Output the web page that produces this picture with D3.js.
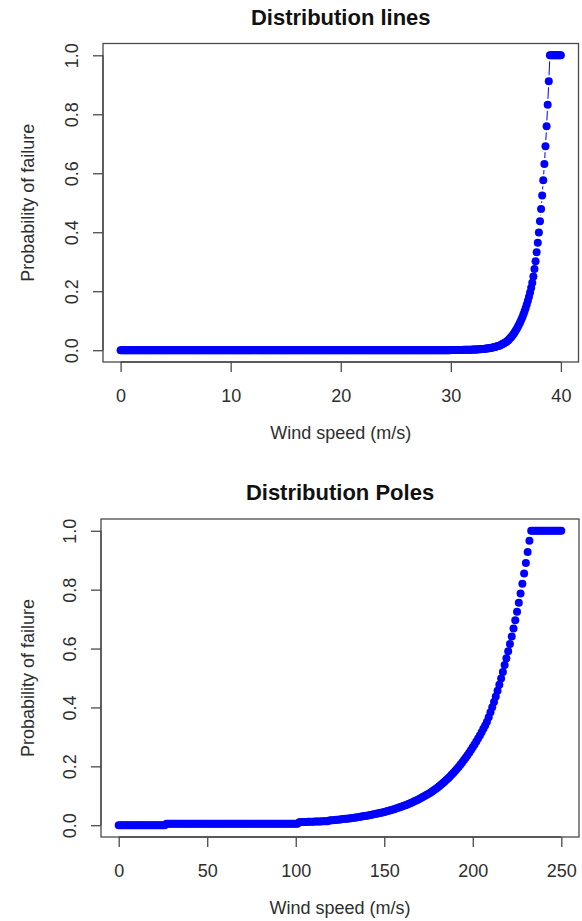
<!DOCTYPE html>
<html>
<head>
<meta charset="utf-8">
<script src="https://cdn.jsdelivr.net/npm/d3@7"></script>
<style>
  html, body { margin: 0; padding: 0; background: #fff; }
  svg { display: block; font-family: "Liberation Sans", Arial, Helvetica, sans-serif; }
</style>
</head>
<body>
<svg id="chart" width="582" height="921"></svg>
<script>
// Fragility curves: probability of failure against wind speed

// Distribution lines: wind speed (m/s), sampled every 0.1 m/s
const lineSpeeds = [
  0,0.1,0.2,0.3,0.4,0.5,0.6,0.7,0.8,0.9,
  1,1.1,1.2,1.3,1.4,1.5,1.6,1.7,1.8,1.9,
  2,2.1,2.2,2.3,2.4,2.5,2.6,2.7,2.8,2.9,
  3,3.1,3.2,3.3,3.4,3.5,3.6,3.7,3.8,3.9,
  4,4.1,4.2,4.3,4.4,4.5,4.6,4.7,4.8,4.9,
  5,5.1,5.2,5.3,5.4,5.5,5.6,5.7,5.8,5.9,
  6,6.1,6.2,6.3,6.4,6.5,6.6,6.7,6.8,6.9,
  7,7.1,7.2,7.3,7.4,7.5,7.6,7.7,7.8,7.9,
  8,8.1,8.2,8.3,8.4,8.5,8.6,8.7,8.8,8.9,
  9,9.1,9.2,9.3,9.4,9.5,9.6,9.7,9.8,9.9,
  10,10.1,10.2,10.3,10.4,10.5,10.6,10.7,10.8,10.9,
  11,11.1,11.2,11.3,11.4,11.5,11.6,11.7,11.8,11.9,
  12,12.1,12.2,12.3,12.4,12.5,12.6,12.7,12.8,12.9,
  13,13.1,13.2,13.3,13.4,13.5,13.6,13.7,13.8,13.9,
  14,14.1,14.2,14.3,14.4,14.5,14.6,14.7,14.8,14.9,
  15,15.1,15.2,15.3,15.4,15.5,15.6,15.7,15.8,15.9,
  16,16.1,16.2,16.3,16.4,16.5,16.6,16.7,16.8,16.9,
  17,17.1,17.2,17.3,17.4,17.5,17.6,17.7,17.8,17.9,
  18,18.1,18.2,18.3,18.4,18.5,18.6,18.7,18.8,18.9,
  19,19.1,19.2,19.3,19.4,19.5,19.6,19.7,19.8,19.9,
  20,20.1,20.2,20.3,20.4,20.5,20.6,20.7,20.8,20.9,
  21,21.1,21.2,21.3,21.4,21.5,21.6,21.7,21.8,21.9,
  22,22.1,22.2,22.3,22.4,22.5,22.6,22.7,22.8,22.9,
  23,23.1,23.2,23.3,23.4,23.5,23.6,23.7,23.8,23.9,
  24,24.1,24.2,24.3,24.4,24.5,24.6,24.7,24.8,24.9,
  25,25.1,25.2,25.3,25.4,25.5,25.6,25.7,25.8,25.9,
  26,26.1,26.2,26.3,26.4,26.5,26.6,26.7,26.8,26.9,
  27,27.1,27.2,27.3,27.4,27.5,27.6,27.7,27.8,27.9,
  28,28.1,28.2,28.3,28.4,28.5,28.6,28.7,28.8,28.9,
  29,29.1,29.2,29.3,29.4,29.5,29.6,29.7,29.8,29.9,
  30,30.1,30.2,30.3,30.4,30.5,30.6,30.7,30.8,30.9,
  31,31.1,31.2,31.3,31.4,31.5,31.6,31.7,31.8,31.9,
  32,32.1,32.2,32.3,32.4,32.5,32.6,32.7,32.8,32.9,
  33,33.1,33.2,33.3,33.4,33.5,33.6,33.7,33.8,33.9,
  34,34.1,34.2,34.3,34.4,34.5,34.6,34.7,34.8,34.9,
  35,35.1,35.2,35.3,35.4,35.5,35.6,35.7,35.8,35.9,
  36,36.1,36.2,36.3,36.4,36.5,36.6,36.7,36.8,36.9,
  37,37.1,37.2,37.3,37.4,37.5,37.6,37.7,37.8,37.9,
  38,38.1,38.2,38.3,38.4,38.5,38.6,38.7,38.8,38.9,
  39,39.1,39.2,39.3,39.4,39.5,39.6,39.7,39.8,39.9,
  40
];

// Distribution lines: probability of failure at each speed above
const lineProbs = [
  0,0,0,0,0,0,0,0,0,0,
  0,0,0,0,0,0,0,0,0,0,
  0,0,0,0,0,0,0,0,0,0,
  0,0,0,0,0,0,0,0,0,0,
  0,0,0,0,0,0,0,0,0,0,
  0,0,0,0,0,0,0,0,0,0,
  0,0,0,0,0,0,0,0,0,0,
  0,0,0,0,0,0,0,0,0,0,
  0,0,0,0,0,0,0,0,0,0,
  0,0,0,0,0,0,0,0,0,0,
  0,0,0,0,0,0,0,0,0,0,
  0,0,0,0,0,0,0,0,0,0,
  0,0,0,0,0,0,0,0,0,0,
  0,0,0,0,0,0,0,0,0,0,
  0,0,0,0,0,0,0,0,0,0,
  0,0,0,0,0,0,0,0,0,0,
  0,0,0,0,0,0,0,0,0,0,
  0,0,0,0,0,0,0,0,0,0,
  0,0,0,0,0,0,0,0,0,0,
  0,0,0,0,0,0,0,0,0,0,
  0,0,0,0,0,0,0,0,0,0,
  0,0,0,0,0,0,0,0,0,0,
  0,0,0,0,0,0,0,0,0,0,
  0,0,0,0,0,0,0,0,0,0,
  0,0,0,0,0,0,0,0,0,0,
  0,0,0,0,0,0,0,0,0,0,
  0,0,0,0,0,0,0,0,0,0,
  0,0,0,0,0,0,0,0,0,0,
  0,0,0,0,0,0,0,0,0,0,
  0,0,0,0,0,0,0,0,0,0,
  0.0005,0.0005,0.0006,0.0006,0.0007,0.0007,0.0008,0.0008,0.0009,0.0009,
  0.0010,0.0011,0.0012,0.0013,0.0014,0.0015,0.0016,0.0017,0.0018,0.0019,
  0.0020,0.0022,0.0024,0.0026,0.0028,0.0030,0.0032,0.0035,0.0038,0.0041,
  0.0045,0.0050,0.0055,0.0060,0.0065,0.0070,0.0077,0.0085,0.0093,0.0100,
  0.011,0.012,0.013,0.014,0.0155,0.017,0.019,0.021,0.023,0.025,
  0.027,0.030,0.033,0.037,0.041,0.045,0.050,0.055,0.061,0.067,
  0.073,0.080,0.087,0.095,0.103,0.112,0.122,0.132,0.143,0.155,
  0.168,0.181,0.196,0.212,0.229,0.250,0.275,0.302,0.332,0.364,
  0.399,0.437,0.479,0.525,0.576,0.631,0.692,0.759,0.832,0.912,
  1,1,1,1,1,1,1,1,1,1,
  1
];

// Distribution poles: wind speed (m/s), sampled every 1 m/s
const poleSpeeds = [
  0,1,2,3,4,5,6,7,8,9,
  10,11,12,13,14,15,16,17,18,19,
  20,21,22,23,24,25,26,27,28,29,
  30,31,32,33,34,35,36,37,38,39,
  40,41,42,43,44,45,46,47,48,49,
  50,51,52,53,54,55,56,57,58,59,
  60,61,62,63,64,65,66,67,68,69,
  70,71,72,73,74,75,76,77,78,79,
  80,81,82,83,84,85,86,87,88,89,
  90,91,92,93,94,95,96,97,98,99,
  100,101,102,103,104,105,106,107,108,109,
  110,111,112,113,114,115,116,117,118,119,
  120,121,122,123,124,125,126,127,128,129,
  130,131,132,133,134,135,136,137,138,139,
  140,141,142,143,144,145,146,147,148,149,
  150,151,152,153,154,155,156,157,158,159,
  160,161,162,163,164,165,166,167,168,169,
  170,171,172,173,174,175,176,177,178,179,
  180,181,182,183,184,185,186,187,188,189,
  190,191,192,193,194,195,196,197,198,199,
  200,201,202,203,204,205,206,207,208,209,
  210,211,212,213,214,215,216,217,218,219,
  220,221,222,223,224,225,226,227,228,229,
  230,231,232,233,234,235,236,237,238,239,
  240,241,242,243,244,245,246,247,248,249,
  250
];

// Distribution poles: probability of failure at each speed above
const poleProbs = [
  0,0,0,0,0,0,0,0,0,0,
  0,0,0,0,0,0,0,0,0,0,
  0,0,0,0,0,0,0,0.005,0.005,0.005,
  0.005,0.005,0.005,0.005,0.005,0.005,0.005,0.005,0.005,0.005,
  0.005,0.005,0.005,0.005,0.005,0.005,0.005,0.005,0.005,0.005,
  0.005,0.005,0.005,0.005,0.005,0.005,0.005,0.005,0.005,0.005,
  0.005,0.005,0.005,0.005,0.005,0.005,0.005,0.005,0.005,0.005,
  0.005,0.005,0.005,0.005,0.005,0.005,0.005,0.005,0.005,0.005,
  0.005,0.005,0.005,0.005,0.005,0.005,0.005,0.005,0.005,0.005,
  0.005,0.005,0.005,0.005,0.005,0.005,0.005,0.005,0.005,0.005,
  0.005,0.005,0.0105,0.0107,0.0109,0.0111,0.0113,0.0115,0.0117,0.0119,
  0.0121,0.0123,0.0125,0.0127,0.0129,0.0131,0.0133,0.0135,0.0137,0.0160,
  0.0165,0.0171,0.0177,0.0183,0.0189,0.0195,0.0202,0.0209,0.0216,0.0223,
  0.0231,0.0239,0.0247,0.0255,0.0264,0.0273,0.0282,0.0292,0.0302,0.0312,
  0.0323,0.0334,0.0345,0.0357,0.0369,0.0381,0.0394,0.0408,0.0422,0.0436,
  0.0451,0.0467,0.0483,0.0500,0.0518,0.0536,0.0555,0.0574,0.0594,0.0615,
  0.0637,0.0659,0.0682,0.0706,0.0731,0.0757,0.0784,0.0811,0.0840,0.0869,
  0.0900,0.0931,0.0964,0.0998,0.1033,0.1069,0.1107,0.1146,0.1186,0.1230,
  0.1276,0.1324,0.1373,0.1424,0.1477,0.1532,0.1590,0.1649,0.1711,0.1774,
  0.1841,0.1909,0.1980,0.2054,0.2131,0.2211,0.2293,0.2379,0.2465,0.2554,
  0.2646,0.2741,0.2840,0.2943,0.3049,0.3159,0.3273,0.3391,0.3513,0.3670,
  0.3834,0.4006,0.4185,0.4372,0.4567,0.4771,0.4984,0.5207,0.5440,0.5668,
  0.5905,0.6153,0.6411,0.6679,0.6959,0.7251,0.7555,0.7871,0.8201,0.8545,
  0.8903,0.9276,0.9665,1,1,1,1,1,1,1,
  1,1,1,1,1,1,1,1,1,1,
  1
];

// Tick labels
const lineSpeedTicks = [0, 10, 20, 30, 40];
const poleSpeedTicks = [0, 50, 100, 150, 200, 250];
const probTicks = [0, 0.2, 0.4, 0.6, 0.8, 1.0];

// Panel titles and axis titles
const panelTitles = ["Distribution lines", "Distribution Poles"];
const xTitle = "Wind speed (m/s)";
const yTitle = "Probability of failure";

const svg = d3.select("#chart");
const POINT_COLOR = "#0000ff";
const AXIS_COLOR = "#4a4a4a";
const TEXT_COLOR = "#2e2e2e";
const POINT_R = 4;
const LINE_GAP = 6;   // "both" style: segments stop short of each point

function drawPanel(cfg) {
  const { box, speeds, probs, xMax, xTicks, title } = cfg;
  // base-graphics style 4% padding around the data range
  const xPad = xMax * 0.04;
  const x = d3.scaleLinear().domain([-xPad, xMax + xPad]).range([box.left, box.right]);
  const y = d3.scaleLinear().domain([-0.04, 1.04]).range([box.bottom, box.top]);

  const g = svg.append("g");

  // frame
  g.append("rect")
    .attr("x", box.left).attr("y", box.top)
    .attr("width", box.right - box.left).attr("height", box.bottom - box.top)
    .attr("fill", "none").attr("stroke", AXIS_COLOR).attr("stroke-width", 1.3);

  // x axis
  const xAxis = g.append("g")
    .attr("transform", `translate(0,${box.bottom})`)
    .call(d3.axisBottom(x).tickValues(xTicks).tickFormat(d3.format("d")).tickSize(10).tickPadding(17));
  xAxis.select(".domain").attr("d", `M${x(xTicks[0])},0H${x(xTicks[xTicks.length - 1])}`)
    .attr("stroke", AXIS_COLOR).attr("stroke-width", 1.3);
  xAxis.selectAll(".tick line").attr("stroke", AXIS_COLOR).attr("stroke-width", 1.3);
  xAxis.selectAll(".tick text")
    .attr("fill", TEXT_COLOR).attr("font-size", 18)
    .attr("font-family", '"Liberation Sans", Arial, sans-serif');

  // y axis with labels running parallel to the axis
  const yAxis = g.append("g")
    .attr("transform", `translate(${box.left},0)`)
    .call(d3.axisLeft(y).tickValues(probTicks).tickFormat(d3.format(".1f")).tickSize(10));
  yAxis.select(".domain").attr("d", `M0,${y(0)}V${y(1)}`)
    .attr("stroke", AXIS_COLOR).attr("stroke-width", 1.3);
  yAxis.selectAll(".tick line").attr("stroke", AXIS_COLOR).attr("stroke-width", 1.3);
  yAxis.selectAll(".tick text")
    .attr("x", 0).attr("y", -25).attr("dy", 0)
    .attr("transform", "rotate(-90)")
    .attr("text-anchor", "middle")
    .attr("fill", TEXT_COLOR).attr("font-size", 18)
    .attr("font-family", '"Liberation Sans", Arial, sans-serif');

  // titles
  const cx = (box.left + box.right) / 2;
  const cy = (box.top + box.bottom) / 2;
  g.append("text")
    .attr("x", cx).attr("y", box.top - 19)
    .attr("text-anchor", "middle")
    .attr("font-size", 22).attr("font-weight", "bold").attr("fill", "#111")
    .text(title);
  g.append("text")
    .attr("x", cx).attr("y", box.bottom + 77)
    .attr("text-anchor", "middle")
    .attr("font-size", 18).attr("fill", TEXT_COLOR)
    .text(xTitle);
  g.append("text")
    .attr("transform", `translate(34,${cy}) rotate(-90)`)
    .attr("text-anchor", "middle")
    .attr("font-size", 18).attr("fill", TEXT_COLOR)
    .text(yTitle);

  // points, with short connecting segments that leave a gap at each point
  const pts = speeds.map((s, i) => ({ px: x(s), py: y(probs[i]) }));
  const segs = [];
  for (let i = 1; i < pts.length; i++) {
    const a = pts[i - 1], b = pts[i];
    const dx = b.px - a.px, dy = b.py - a.py;
    const d = Math.hypot(dx, dy);
    if (d > 2 * LINE_GAP) {
      const ux = dx / d, uy = dy / d;
      segs.push({ x1: a.px + ux * LINE_GAP, y1: a.py + uy * LINE_GAP,
                  x2: b.px - ux * LINE_GAP, y2: b.py - uy * LINE_GAP });
    }
  }
  g.append("g").selectAll("line")
    .data(segs)
    .join("line")
    .attr("x1", d => d.x1).attr("y1", d => d.y1)
    .attr("x2", d => d.x2).attr("y2", d => d.y2)
    .attr("stroke", POINT_COLOR).attr("stroke-width", 1);
  g.append("g").selectAll("circle")
    .data(pts)
    .join("circle")
    .attr("cx", d => d.px)
    .attr("cy", d => d.py)
    .attr("r", POINT_R)
    .attr("fill", POINT_COLOR);
}

drawPanel({
  box: { left: 103, right: 578.5, top: 43.5, bottom: 362 },
  speeds: lineSpeeds, probs: lineProbs, xMax: 40, xTicks: lineSpeedTicks,
  title: panelTitles[0]
});

drawPanel({
  box: { left: 101, right: 579, top: 519, bottom: 837 },
  speeds: poleSpeeds, probs: poleProbs, xMax: 250, xTicks: poleSpeedTicks,
  title: panelTitles[1]
});
</script>
</body>
</html>
